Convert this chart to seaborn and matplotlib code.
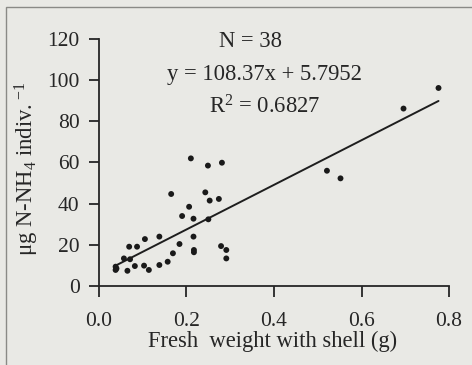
import numpy as np
import pandas as pd
import matplotlib
matplotlib.use("Agg")
import matplotlib.pyplot as plt
import seaborn as sns
from matplotlib.patches import Rectangle

# fresh weight with shell (g)
weight = [0.038, 0.038, 0.040, 0.057, 0.071, 0.065, 0.069, 0.087, 0.082, 0.103,
          0.105, 0.114, 0.138, 0.138, 0.157, 0.165, 0.169, 0.184, 0.190, 0.206,
          0.210, 0.216, 0.216, 0.217, 0.217, 0.243, 0.249, 0.250, 0.253, 0.274,
          0.281, 0.279, 0.291, 0.291, 0.521, 0.552, 0.696, 0.776]
# ug N-NH4 per individual
nh4 = [9.4, 7.8, 8.5, 13.4, 13.0, 7.4, 19.1, 19.1, 9.7, 9.9,
       22.8, 7.8, 24.0, 10.2, 11.8, 44.7, 15.9, 20.4, 34.0, 38.5,
       62.0, 32.7, 24.0, 17.5, 16.4, 45.5, 58.5, 32.4, 41.5, 42.3,
       59.9, 19.4, 17.5, 13.4, 56.0, 52.3, 86.2, 96.2]

slope = 108.37
intercept = 5.7952
r2 = 0.6827

x_ticks = [0.0, 0.2, 0.4, 0.6, 0.8]
y_ticks = [0, 20, 40, 60, 80, 100, 120]

sns.set_style("ticks")
plt.rcParams['font.family'] = ['Liberation Serif', 'DejaVu Serif']
plt.rcParams['mathtext.fontset'] = 'custom'
plt.rcParams['mathtext.rm'] = 'Liberation Serif'
plt.rcParams['mathtext.it'] = 'Liberation Serif'

bg = '#e9e9e5'
ink = '#262626'
fs = 16.3

df = pd.DataFrame({'weight': weight, 'nh4': nh4})
xfit = np.array([min(weight), max(weight)])
fit = pd.DataFrame({'weight': xfit, 'nh4': slope * xfit + intercept})

fig = plt.figure(figsize=(4.72, 3.65), dpi=100, facecolor=bg)
ax = fig.add_axes([0.2097, 0.2164, 0.7416, 0.6768])
ax.set_facecolor(bg)

sns.lineplot(data=fit, x='weight', y='nh4', ax=ax, color='#1e1e1e', linewidth=1.4)
sns.scatterplot(data=df, x='weight', y='nh4', ax=ax, color='#1a1a1a', s=18,
                edgecolor='none', zorder=3)

ax.set_xlim(0, 0.8)
ax.set_ylim(0, 120)
ax.set_xticks(x_ticks)
ax.set_xticklabels(['{:.1f}'.format(t) for t in x_ticks])
ax.set_yticks(y_ticks)
sns.despine(ax=ax)
for side in ['left', 'bottom']:
    ax.spines[side].set_color(ink)
    ax.spines[side].set_linewidth(1.3)
ax.tick_params(axis='both', colors=ink, labelsize=15.5, width=1.3)
ax.tick_params(axis='y', length=7, pad=7)
ax.tick_params(axis='x', length=8, pad=11)

ax.set_xlabel('Fresh  weight with shell (g)', fontsize=fs, color=ink)
ax.set_ylabel(r'$\mathregular{\mu g\ N}$-$\mathregular{NH_4\ indiv.^{-1}}$', fontsize=fs, color=ink)
ax.xaxis.set_label_coords(0.497, -0.18)
ax.yaxis.set_label_coords(-0.165, 0.474)

ax.text(0.434, 0.968, 'N = ' + str(len(weight)), transform=ax.transAxes,
        ha='center', va='baseline', fontsize=fs, color=ink)
ax.text(0.474, 0.834, 'y = {:.2f}x + {:.4f}'.format(slope, intercept), transform=ax.transAxes,
        ha='center', va='baseline', fontsize=fs, color=ink)
ax.text(0.474, 0.700, r'R$^\mathregular{2}$ = ' + '{:.4f}'.format(r2), transform=ax.transAxes,
        ha='center', va='baseline', fontsize=fs, color=ink)

# page frame around the figure
fig.patches.append(Rectangle((6 / 472, -0.05), 1.2, (365 - 7) / 365 + 0.05,
                             transform=fig.transFigure, fill=False,
                             edgecolor='#8a8a86', linewidth=1.0))

fig.savefig('out.png', dpi=100, facecolor=bg)
